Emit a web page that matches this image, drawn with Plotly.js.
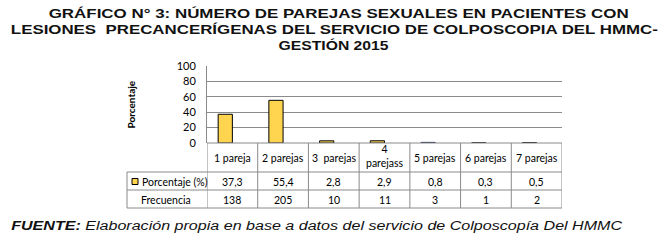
<!DOCTYPE html>
<html><head><meta charset="utf-8">
<script src="https://cdn.plot.ly/plotly-3.0.1.min.js"></script>
<style>body{margin:0;background:#fff}#c{width:669px;height:244px}</style>
</head><body><div id="c"></div>
<script>
const categories = ["1 pareja","2 parejas","3  parejas","4<br>parejass","5 parejas","6 parejas","7 parejas"];
const porcentaje = [37.3, 55.4, 2.8, 2.9, 0.8, 0.3, 0.5];
const porcentajeLabels = ["37,3","55,4","2,8","2,9","0,8","0,3","0,5"];
const frecuencia = [138, 205, 10, 11, 3, 1, 2];
const yTicks = [0, 20, 40, 60, 80, 100];
const barOutline = ["#000","#000","#000","#000","#1f2a5c","#000","#000"];
const titleLines = ["GRÁFICO N° 3: NÚMERO DE PAREJAS SEXUALES EN PACIENTES CON",
                    "LESIONES \u00a0PRECANCERÍGENAS DEL SERVICIO DE COLPOSCOPIA DEL HMMC-",
                    "GESTIÓN 2015"];
const sourceBold = "FUENTE:";
const sourceText = " Elaboración propia en base a datos del servicio de Colposcopía Del HMMC";

const W = 669, H = 244;
const L = 207, R = 562, T = 66, B = 143;
const px = x => (x - L) / (R - L);
const py = y => (B - y) / (B - T);
const idx = categories.map((c, i) => i);

const tf = {family: "Lato, 'Open Sans', sans-serif", size: 10.5, color: "#000"};
const ann = [];
const shapes = [];
const gray = "#8a8a8a";

categories.forEach((c, i) => {
  ann.push({x: i, xref: "x", y: py(c.includes("<br>") ? 156 : 157.5), yref: "paper", text: c, showarrow: false, font: tf, xanchor: "center", yanchor: "middle"});
  ann.push({x: i, xref: "x", y: py(181.5), yref: "paper", text: porcentajeLabels[i], showarrow: false, font: tf, xanchor: "center", yanchor: "middle"});
  ann.push({x: i, xref: "x", y: py(199.5), yref: "paper", text: String(frecuencia[i]), showarrow: false, font: tf, xanchor: "center", yanchor: "middle"});
});
ann.push({x: px(140), xref: "paper", y: py(181.5), yref: "paper", text: "Porcentaje (%)", showarrow: false, font: tf, xanchor: "left", yanchor: "middle"});
ann.push({x: px(166), xref: "paper", y: py(199.5), yref: "paper", text: "Frecuencia", showarrow: false, font: tf, xanchor: "center", yanchor: "middle"});

for (let i = 0; i <= categories.length; i++) {
  shapes.push({type: "line", xref: "x", yref: "paper", x0: i - 0.5, x1: i - 0.5, y0: py(143), y1: py(208), line: {color: gray, width: 1}});
}
shapes.push({type: "line", xref: "paper", yref: "paper", x0: px(127), x1: px(127), y0: py(172), y1: py(208), line: {color: gray, width: 1}});
[172, 190, 208].forEach(y => shapes.push({type: "line", xref: "paper", yref: "paper", x0: px(127), x1: px(562), y0: py(y), y1: py(y), line: {color: gray, width: 1}}));
shapes.push({type: "line", xref: "paper", yref: "paper", x0: px(207), x1: px(562), y0: py(143), y1: py(143), line: {color: gray, width: 1}});
shapes.push({type: "rect", xref: "paper", yref: "paper", x0: px(132), x1: px(138), y0: py(178.5), y1: py(184.5), fillcolor: "#FFD54F", line: {color: "#000", width: 1}});

const titleFont = {family: "'Liberation Sans', Arial, sans-serif", size: 13, color: "#111"};
const titleY = [13.5, 29.5, 45];
// target pixel spans [left, right] for stretching
const spans = [[48, 628], [11, 658], [278, 388]];
titleLines.forEach((t, i) => {
  ann.push({x: px((spans[i][0] + spans[i][1]) / 2), xref: "paper", y: py(titleY[i]), yref: "paper", text: "<b>" + t + "</b>", showarrow: false, font: titleFont, xanchor: "center", yanchor: "middle", name: "title" + i});
});
ann.push({x: px(316.5), xref: "paper", y: py(226), yref: "paper", text: "<b><i>" + sourceBold + "</i></b><i>" + sourceText + "</i>", showarrow: false, font: {family: "'Liberation Sans', Arial, sans-serif", size: 12.5, color: "#111"}, xanchor: "center", yanchor: "middle", name: "source"});
ann.push({x: px(130), xref: "paper", y: py(104.5), yref: "paper", text: "<b>Porcentaje</b>", textangle: -90, showarrow: false, font: {family: "Lato, sans-serif", size: 10, color: "#000"}, xanchor: "center", yanchor: "middle"});

const stretch = {};
titleLines.forEach((t, i) => stretch[t.replace(/\u00a0/g, " ").slice(0, 12)] = spans[i][1] - spans[i][0]);
stretch["FUENTE: Elab"] = 611;

Plotly.newPlot("c", [{
  type: "bar", x: idx, y: porcentaje,
  width: 0.28, offset: -0.28,
  marker: {color: "#FFD54F", line: {color: barOutline, width: 1}},
  hoverinfo: "skip"
}], {
  width: W, height: H,
  margin: {l: L, r: W - R, t: T, b: H - B, pad: 0},
  paper_bgcolor: "#fff", plot_bgcolor: "#fff",
  showlegend: false,
  xaxis: {range: [-0.5, 6.5], showticklabels: false, showgrid: false, zeroline: false, ticks: "", showline: false, fixedrange: true},
  yaxis: {range: [0, 100], tickvals: yTicks, ticktext: yTicks.map(String), showgrid: true, gridcolor: gray, gridwidth: 1, zeroline: false,
          showline: true, linecolor: gray, linewidth: 1, ticks: "", ticklen: 0, ticklabelstandoff: 8,
          tickfont: {family: "Lato, sans-serif", size: 11, color: "#000"}, fixedrange: true},
  annotations: ann, shapes: shapes
}, {staticPlot: true}).then(() => {
  document.querySelectorAll("#c text.annotation-text").forEach(el => {
    const key = el.textContent.replace(/\u00a0/g, " ").slice(0, 12);
    if (stretch[key]) {
      el.setAttribute("textLength", stretch[key]);
      el.setAttribute("lengthAdjust", "spacingAndGlyphs");
    }
  });
});
</script></body></html>
